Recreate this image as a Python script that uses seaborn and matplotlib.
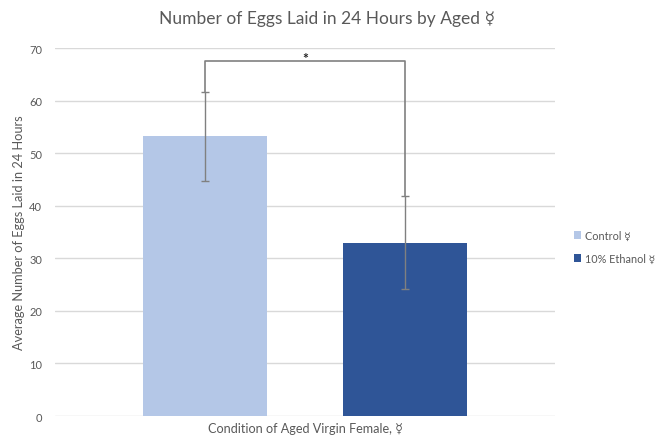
import seaborn as sns
import pandas as pd
import matplotlib.pyplot as plt

conditions = ["Control ☿", "10% Ethanol ☿"]
mean_eggs = [53.2, 33.0]
error_eggs = [8.4, 8.8]
bar_colors = ["#b4c7e7", "#2f5597"]
category = [""]

fonts = ["Lato", "DejaVu Sans"]
grey = "#595959"


def plot_eggs():
    df = pd.DataFrame({"cat": category * len(conditions),
                       "condition": conditions,
                       "eggs": mean_eggs})

    sns.set_style("white")
    plt.rcParams["font.family"] = fonts

    fig = plt.figure(figsize=(6.68, 4.39), dpi=100)
    ax = fig.add_axes([0.082, 0.050, 0.749, 0.838])

    sns.barplot(data=df, x="cat", y="eggs", hue="condition",
                palette=bar_colors, gap=0.377, errorbar=None, ax=ax,
                saturation=1, linewidth=0)

    # error bars at the bar centres
    centres = [p.get_x() + p.get_width() / 2 for p in ax.patches[:len(conditions)]]
    ax.errorbar(centres, mean_eggs, yerr=error_eggs, fmt="none",
                ecolor="#808080", elinewidth=1, capsize=3, capthick=1)

    # significance bracket
    top = 67.5
    ax.plot([centres[0], centres[0], centres[1], centres[1]],
            [mean_eggs[0] + error_eggs[0], top, top, mean_eggs[1] + error_eggs[1]],
            color="#808080", lw=1.2)
    ax.text(sum(centres) / 2, top - 0.6, "*", ha="center", va="bottom",
            fontsize=10, color="#222222", fontweight="bold")

    ax.set_ylim(0, 70)
    ax.set_xlim(-0.5, 0.5)
    ax.set_yticks(range(0, 71, 10))
    ax.yaxis.grid(True, color="#d9d9d9", lw=1)
    ax.set_axisbelow(True)
    for s in ax.spines.values():
        s.set_visible(False)
    ax.set_xticks([])
    ax.tick_params(axis="y", length=0, labelsize=8, labelcolor=grey, pad=9)

    ax.set_ylabel("Average Number of Eggs Laid in 24 Hours", fontsize=9.2,
                  color=grey, labelpad=3)
    ax.set_xlabel("Condition of Aged Virgin Female, ☿", fontsize=9.1,
                  color=grey, labelpad=4)
    fig.suptitle("Number of Eggs Laid in 24 Hours by Aged ☿", fontsize=12.5,
                 color=grey, x=0.49, y=0.975)

    ax.legend(loc="center left", bbox_to_anchor=(1.018, 0.46), frameon=False,
              fontsize=7.8, labelcolor=grey, handlelength=0.7, handleheight=0.7,
              handletextpad=0.3, labelspacing=1.1)

    fig.savefig("out.png", dpi=100)


if __name__ == "__main__":
    plot_eggs()
